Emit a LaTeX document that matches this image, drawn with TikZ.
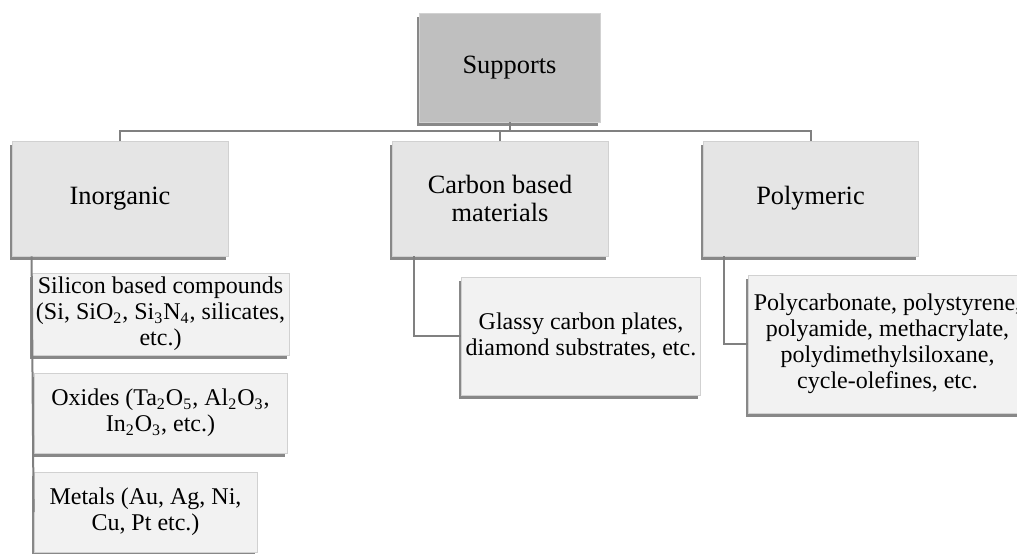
\documentclass[tikz,border=0pt]{standalone}
\usepackage{fontspec}
\setmainfont{Liberation Serif}
\usetikzlibrary{shadows}
\tikzset{
  box/.style={draw=white!82!black, fill=white!90!black, align=center, inner sep=2pt,
    drop shadow={shadow xshift=-1.2pt, shadow yshift=-1.8pt, fill=black!55, opacity=.85},
    font=\fontsize{13.2}{14}\selectfont},
  rootbox/.style={box, fill=white!75!black},
  leafbox/.style={box, fill=white!95!black, font=\fontsize{12}{13}\selectfont},
  conn/.style={draw=white!50!black, line width=1pt}
}
\begin{document}
\begin{tikzpicture}[x=0.5pt,y=-0.5pt]
\useasboundingbox (0,0) rectangle (1017,553);
\coordinate (bus) at (0,131);
% top level
\node[rootbox, minimum width=90.5pt, minimum height=54.5pt] (sup) at (509.5,67.5) {Supports};
% second level
\node[box, minimum width=108pt, minimum height=57.5pt] (inorg) at (120,198.5) {Inorganic};
\node[box, minimum width=108pt, minimum height=57.5pt] (carb) at (500,198.5) {Carbon based\\materials};
\node[box, minimum width=107.5pt, minimum height=57.5pt] (poly) at (810.5,198.5) {Polymeric};
% leaves
\node[leafbox, minimum width=126.5pt, minimum height=41pt] (sil) at (160.5,314) {Silicon based compounds\\(Si, SiO\textsubscript{2}, Si\textsubscript{3}N\textsubscript{4}, silicates,\\etc.)};
\node[leafbox, minimum width=126.5pt, minimum height=40pt] (oxi) at (160.5,413) {Oxides (Ta\textsubscript{2}O\textsubscript{5}, Al\textsubscript{2}O\textsubscript{3},\\In\textsubscript{2}O\textsubscript{3}, etc.)};
\node[leafbox, minimum width=111.5pt, minimum height=40pt] (met) at (145.5,512) {Metals (Au, Ag, Ni,\\Cu, Pt etc.)};
\node[leafbox, minimum width=118pt, minimum height=59pt] (glas) at (581,336) {Glassy carbon plates,\\diamond substrates, etc.};
\node[leafbox, minimum width=139.5pt, minimum height=69pt] (polyl) at (887.5,344) {Polycarbonate, polystyrene,\\polyamide, methacrylate,\\polydimethylsiloxane,\\cycle-olefines, etc.};
% connectors
\draw[conn] (sup.south) -- (sup.south |- bus);
\draw[conn] (inorg.north) -- (inorg.north |- bus) -| (poly.north);
\draw[conn] (carb.north) -- (carb.north |- bus);
\draw[conn] (sil.west |- inorg.south) -- (met.west);
\draw[conn] ([xshift=11pt]carb.south west) |- (glas.west);
\draw[conn] ([xshift=10.5pt]poly.south west) |- (polyl.west);
\end{tikzpicture}
\end{document}
